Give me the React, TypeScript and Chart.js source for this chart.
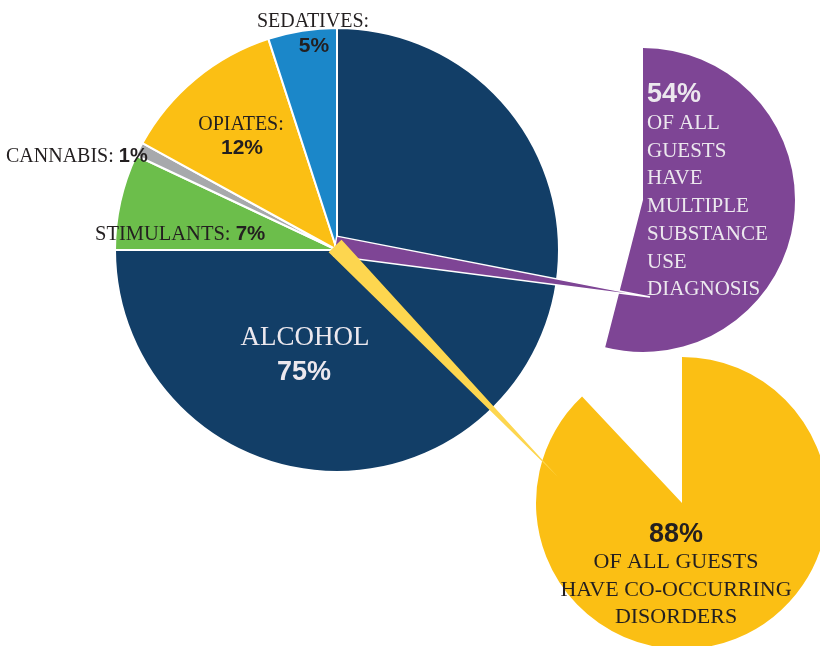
import React, { useEffect, useRef } from "react";
import { Chart, registerables } from "chart.js";

Chart.register(...registerables);

// ---------- data ----------
const substanceLabels = ["ALCOHOL", "STIMULANTS", "CANNABIS", "OPIATES", "SEDATIVES"];
const substanceShares = [75, 7, 1, 12, 5];
const substanceColors = ["#123E67", "#6CBE4B", "#A7A9AC", "#FBBF14", "#1B87C9"];

const multipleDiagnosisLabels = ["Multiple substance use diagnosis", "Other"];
const multipleDiagnosisShare = [54, 46];
const multipleDiagnosisLines = ["OF ALL", "GUESTS", "HAVE", "MULTIPLE", "SUBSTANCE", "USE", "DIAGNOSIS"];

const coOccurringLabels = ["Co-occurring disorders", "Other"];
const coOccurringShare = [88, 12];
const coOccurringLines = ["OF ALL GUESTS", "HAVE CO-OCCURRING", "DISORDERS"];

// ---------- layout / style ----------
const W = 820;
const H = 646;
const MAIN = { x: 337, y: 250, r: 222 };
const PURPLE = { x: 643, y: 200, r: 152 };
const YELLOW = { x: 682, y: 503, r: 146 };
const HUB = { x: 335, y: 246 };
const PURPLE_TIP = { x: 650, y: 297, spanDeg: 3.6 };
const YELLOW_TIP = { x: 558, y: 477, spanDeg: 3.2 };

const PURPLE_COLOR = "#7E4595";
const YELLOW_COLOR = "#FBBF14";
const LIGHT_YELLOW = "#FDD64F";
const DARK = "#231F20";
const LIGHT = "#ECE8EE";
const SERIF = '"Liberation Serif", "DejaVu Serif", serif';
const SANS = '"Liberation Sans", Arial, sans-serif';
const TRANSPARENT = "rgba(0,0,0,0)";

type DrawFn = (ctx: CanvasRenderingContext2D, cx: number, cy: number) => void;

type Layer = {
  cx: number;
  cy: number;
  radius: number;
  rotation: number;
  labels: string[];
  data: number[];
  colors: string[];
  borderColors: string[];
  borderWidths: number[];
  draw?: DrawFn;
};

function put(
  ctx: CanvasRenderingContext2D,
  s: string,
  x: number,
  y: number,
  font: string,
  color: string,
  align: CanvasTextAlign
) {
  ctx.font = font;
  ctx.fillStyle = color;
  ctx.textAlign = align;
  ctx.textBaseline = "alphabetic";
  ctx.fillText(s, x, y);
}

function inline(ctx: CanvasRenderingContext2D, a: string, b: string, x: number, y: number, size: number) {
  ctx.font = `${size}px ${SERIF}`;
  const w = ctx.measureText(a + " ").width;
  put(ctx, a, x, y, `${size}px ${SERIF}`, DARK, "left");
  put(ctx, b, x + w, y, `bold ${size}px ${SANS}`, DARK, "left");
}

function bearing(fx: number, fy: number, tx: number, ty: number) {
  return (Math.atan2(tx - fx, -(ty - fy)) * 180) / Math.PI;
}

function connector(tip: { x: number; y: number; spanDeg: number }, color: string, bw: number): Layer {
  const dist = Math.hypot(HUB.x - tip.x, HUB.y - tip.y);
  const dir = bearing(tip.x, tip.y, HUB.x, HUB.y);
  const share = (tip.spanDeg / 360) * 100;
  return {
    cx: tip.x,
    cy: tip.y,
    radius: dist,
    rotation: dir - tip.spanDeg / 2,
    labels: ["link", ""],
    data: [share, 100 - share],
    colors: [color, TRANSPARENT],
    borderColors: ["#FFFFFF", TRANSPARENT],
    borderWidths: [bw, 0],
  };
}

const mainLayer: Layer = {
  cx: MAIN.x,
  cy: MAIN.y,
  radius: MAIN.r,
  rotation: 0,
  labels: substanceLabels,
  data: substanceShares,
  colors: substanceColors,
  borderColors: substanceColors.map(() => "#FFFFFF"),
  borderWidths: substanceColors.map(() => 2),
  draw: (ctx, cx, cy) => {
    const lab = (i: number) => substanceLabels[i] + ":";
    const pct = (i: number) => substanceShares[i] + "%";
    put(ctx, lab(4), cx - 24, cy - 223, `20px ${SERIF}`, DARK, "center");
    put(ctx, pct(4), cx - 23, cy - 198, `bold 21px ${SANS}`, DARK, "center");
    put(ctx, lab(3), cx - 96, cy - 120, `20px ${SERIF}`, DARK, "center");
    put(ctx, pct(3), cx - 95, cy - 96, `bold 21px ${SANS}`, DARK, "center");
    inline(ctx, lab(2), pct(2), cx - 331, cy - 88, 20);
    inline(ctx, lab(1), pct(1), cx - 242, cy - 10, 20.5);
    put(ctx, substanceLabels[0], cx - 32, cy + 95, `27px ${SERIF}`, LIGHT, "center");
    put(ctx, pct(0), cx - 33, cy + 130, `bold 27px ${SANS}`, LIGHT, "center");
  },
};

const purpleLayer: Layer = {
  cx: PURPLE.x,
  cy: PURPLE.y,
  radius: PURPLE.r,
  rotation: 0,
  labels: multipleDiagnosisLabels,
  data: multipleDiagnosisShare,
  colors: [PURPLE_COLOR, TRANSPARENT],
  borderColors: [TRANSPARENT, TRANSPARENT],
  borderWidths: [0, 0],
  draw: (ctx, cx, cy) => {
    put(ctx, multipleDiagnosisShare[0] + "%", cx + 4, cy - 98, `bold 27px ${SANS}`, LIGHT, "left");
    multipleDiagnosisLines.forEach((s, i) => {
      put(ctx, s, cx + 4, cy - 71 + i * 27.7, `21px ${SERIF}`, LIGHT, "left");
    });
  },
};

const yellowLayer: Layer = {
  cx: YELLOW.x,
  cy: YELLOW.y,
  radius: YELLOW.r,
  rotation: 0,
  labels: coOccurringLabels,
  data: coOccurringShare,
  colors: [YELLOW_COLOR, TRANSPARENT],
  borderColors: [TRANSPARENT, TRANSPARENT],
  borderWidths: [0, 0],
  draw: (ctx, cx, cy) => {
    put(ctx, coOccurringShare[0] + "%", cx - 6, cy + 39, `bold 27px ${SANS}`, DARK, "center");
    const base = [65, 93, 120];
    coOccurringLines.forEach((s, i) => {
      put(ctx, s, cx - 6, cy + base[i], `22px ${SERIF}`, DARK, "center");
    });
  },
};

const layers: Layer[] = [
  mainLayer,
  purpleLayer,
  yellowLayer,
  connector(PURPLE_TIP, PURPLE_COLOR, 1.5),
  connector(YELLOW_TIP, LIGHT_YELLOW, 0),
];

function PieLayer({ layer }: { layer: Layer }) {
  const ref = useRef<HTMLCanvasElement | null>(null);
  useEffect(() => {
    const canvas = ref.current;
    if (!canvas) return;
    const padding = {
      left: Math.max(0, 2 * layer.cx - W),
      right: Math.max(0, W - 2 * layer.cx),
      top: Math.max(0, 2 * layer.cy - H),
      bottom: Math.max(0, H - 2 * layer.cy),
    };
    const labelPlugin = {
      id: "labels",
      afterDatasetsDraw(chart: any) {
        if (!layer.draw) return;
        const arc = chart.getDatasetMeta(0).data[0];
        const ctx = chart.ctx as CanvasRenderingContext2D;
        ctx.save();
        layer.draw(ctx, arc.x, arc.y);
        ctx.restore();
      },
    };
    const chart = new Chart(canvas, {
      type: "pie",
      data: {
        labels: layer.labels,
        datasets: [
          {
            data: layer.data,
            backgroundColor: layer.colors,
            borderColor: layer.borderColors,
            borderWidth: layer.borderWidths,
            hoverOffset: 0,
            clip: false as any,
          } as any,
        ],
      },
      options: {
        responsive: false,
        maintainAspectRatio: false,
        animation: false,
        events: [],
        radius: layer.radius,
        rotation: layer.rotation,
        layout: { padding },
        plugins: {
          legend: { display: false },
          tooltip: { enabled: false },
        },
      } as any,
      plugins: [labelPlugin],
    });
    return () => chart.destroy();
  }, [layer]);
  return (
    <canvas
      ref={ref}
      width={W}
      height={H}
      style={{ position: "absolute", left: 0, top: 0, width: W, height: H, pointerEvents: "none" }}
    />
  );
}

export default function App() {
  return (
    <div
      style={{
        position: "absolute",
        left: 0,
        top: 0,
        width: W,
        height: H,
        overflow: "hidden",
        background: "#FFFFFF",
      }}
    >
      {layers.map((layer, i) => (
        <PieLayer key={i} layer={layer} />
      ))}
    </div>
  );
}
